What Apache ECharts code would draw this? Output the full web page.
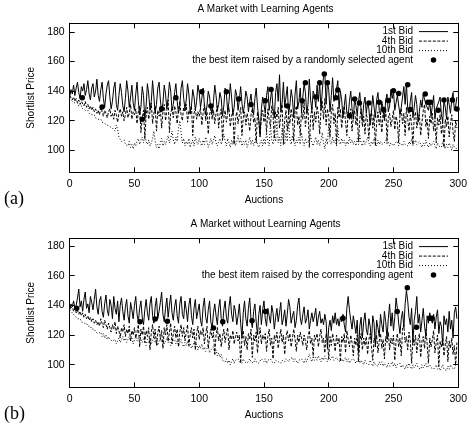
<!DOCTYPE html>
<html><head><meta charset="utf-8">
<script src="https://cdn.jsdelivr.net/npm/echarts@6/dist/echarts.min.js"></script>
<style>html,body{margin:0;padding:0;background:#fff}#c{width:470px;height:430px}</style>
</head><body><div id="c"></div>
<script>
// ---- Data ----
const titles = ['A Market with Learning Agents', 'A Market without Learning Agents'];
const panelTags = ['(a)', '(b)'];
const seriesNames = ['1st Bid', '4th Bid', '10th Bid'];
const dotNames = ['the best item raised by a randomly selected agent', 'the best item raised by the corresponding agent'];
const xTicks = [0, 50, 100, 150, 200, 250, 300];
const yTicks = [100, 120, 140, 160, 180];

// Panel (a): with learning agents
const a1 = [
136,141,138,144,137,142,146,139,135,143, 140,145,137,141,147,138,134,142,145,136,
140,148,137,133,141,146,135,129,138,144, 147,136,128,133,142,146,131,127,137,145,
139,130,126,135,147,140,129,136,144,132, 127,138,146,133,124,129,143,137,121,130,
145,138,127,133,147,136,125,131,142,146, 134,126,132,144,138,128,135,146,140,127,
131,139,145,133,125,130,142,147,135,128, 134,145,138,126,130,141,136,127,133,144,
139,129,135,142,131,124,130,140,136,128, 125,133,144,137,127,131,139,135,123,130,
142,138,126,133,145,136,124,129,141,137, 127,134,143,132,125,131,140,136,126,133,
138,129,124,135,142,130,121,110,128,136, 131,125,137,143,127,134,141,128,122,139,
145,133,151,126,132,146,129,136,143,124, 130,141,135,122,138,147,128,133,142,126,
136,145,139,125,131,148,134,127,140,137, 129,144,133,146,127,140,150,152,131,146,
141,126,137,149,133,136,141,147,128,140, 134,122,130,138,125,123,133,140,128,121,
135,130,124,133,139,127,120,131,136,125, 132,128,117,126,137,129,122,134,139,127,
124,133,128,121,134,138,126,130,141,135, 140,127,132,137,138,124,129,136,143,131,
145,128,125,133,139,122,129,137,131,119, 126,134,129,138,138,131,132,127,133,123,
130,137,121,128,127,133,136,124,119,134, 129,121,136,131,125,134,139,127,130,136];
const a4 = [
137,136,134,136,133,135,132,134,131,133, 132,130,133,129,131,128,130,127,129,126,
128,125,127,124,129,126,123,127,125,122, 126,128,123,125,121,127,124,119,125,128,
123,126,120,124,129,122,125,131,121,126, 124,128,118,126,130,112,122,127,108,124,
129,121,126,132,118,125,130,113,127,123, 128,115,126,131,120,127,134,112,125,129,
122,130,126,118,128,133,124,120,129,126, 131,119,127,124,130,110,125,128,121,126,
123,129,117,125,131,120,126,111,124,128, 121,127,118,125,130,115,124,128,107,122,
127,119,125,129,116,123,127,104,121,126, 118,124,129,110,122,126,117,125,120,113,
124,128,119,122,105,126,120,109,123,127, 119,125,112,128,121,116,130,124,108,126,
122,129,115,124,131,104,120,127,113,125, 118,128,122,106,126,130,117,123,110,127,
121,132,116,124,128,102,122,129,114,126, 119,130,124,111,127,133,121,135,117,128,
123,109,126,131,118,125,104,129,122,128, 115,124,130,119,110,126,121,128,113,123,
127,117,124,106,121,128,116,123,111,125, 120,108,122,127,115,124,103,119,126,117,
123,112,126,120,128,106,122,125,116,121, 127,114,123,119,105,124,128,118,125,110,
129,121,113,124,118,104,122,126,115,120, 124,110,119,127,131,116,121,108,123,118,
125,113,120,105,122,117,124,111,119,102, 121,116,123,109,118,124,112,106,120,115];
const a10 = [
135,134,133,134,132,131,132,130,129,130, 128,129,127,126,127,125,126,124,123,124,
122,123,121,120,121,119,120,118,119,117, 118,116,117,115,116,113,117,114,109,108,
106,105,107,104,105,103,106,102,104,101, 105,103,106,108,104,107,109,105,110,106,
104,107,103,105,108,113,106,102,104,101, 105,108,103,106,104,107,110,105,108,113,
107,104,109,106,115,120,112,105,108,103, 106,104,108,102,105,107,103,109,106,104,
108,105,103,107,104,109,106,102,105,108, 104,107,110,105,103,106,108,104,107,111,
106,103,108,105,102,107,104,109,103,106, 110,105,108,103,106,104,107,102,105,109,
104,107,103,106,108,104,102,105,107,103, 108,104,112,106,103,118,107,104,110,106,
121,105,109,103,115,107,104,112,106,119, 108,104,110,106,103,107,105,109,104,112,
106,103,108,105,104,107,110,105,103,106, 109,104,107,103,106,112,105,101,108,104,
118,106,104,109,105,107,103,115,106,104, 108,105,107,103,106,104,109,105,107,104,
106,103,108,104,110,105,103,107,104,106, 109,105,103,106,104,108,105,103,107,104,
106,104,103,105,107,104,106,103,105,104, 103,105,104,106,103,105,104,103,106,104,
105,103,106,104,108,103,105,107,104,103, 106,104,102,105,103,107,104,102,105,103,
104,106,103,101,105,103,104,102,106,103, 101,104,102,105,103,100,104,102,103,101];
const aDotX = [9.7,25,56,71,82,102,109,121,130.5,140,151,155.5,168,179.5,182,190,193,196.6,199,205.5,207,216,220,223.7,231,239,242.3,246,250,254,261,263,274.5,276.5,278.5,284.5,289,295.5,299];
const aDotY = [135.5,129.2,120.9,128,135.5,139.6,130,139.6,134.6,131,133.5,141,130,133.5,145.6,136,145.6,151.5,145.6,135.5,140.7,123.4,134.6,132,132,132.4,127.6,133.7,140.2,138.4,144.3,127.6,138,132.4,132.4,127,134,134,127.9];

// Panel (b): without learning agents
const b1 = [
137,141,139,143,138,140,145,151,139,143, 136,144,149,138,141,135,146,142,137,144,
151,139,134,143,146,136,132,141,147,137, 133,144,140,131,146,138,134,143,129,140,
145,136,130,139,144,133,128,142,137,131, 140,146,134,129,138,143,132,127,137,144,
135,130,141,146,133,128,139,145,131,136, 142,149,134,129,138,145,132,140,147,135,
130,139,144,133,128,141,146,134,131,143, 137,129,140,145,133,127,138,144,131,136,
141,130,126,139,145,132,128,137,143,129, 124,135,141,133,127,138,144,131,126,137,
143,132,128,139,146,134,129,140,136,127, 133,141,128,118,135,143,131,126,138,145,
130,125,136,141,129,120,134,140,127,137, 143,131,126,138,133,128,140,135,124,132,
138,129,135,142,127,131,137,126,134,144, 139,128,133,136,125,130,140,145,132,127,
134,139,128,131,137,124,130,135,129,133, 138,126,132,136,128,131,127,134,129,111,
125,130,123,133,128,135,127,131,126,132, 129,134,127,122,138,146,137,130,124,133,
127,121,130,108,126,132,118,129,135,124, 120,131,126,115,133,128,112,130,125,119,
134,127,122,136,129,118,131,141,126,135, 123,132,145,138,128,121,131,136,125,141,
150,143,132,127,138,115,130,136,146,128, 134,122,130,138,126,119,133,128,135,131,
128,134,124,132,137,121,129,126,113,133, 127,131,122,136,124,130,118,135,139,131];
const b4 = [
138,137,139,136,138,135,137,134,136,133, 135,132,134,131,133,130,132,129,131,128,
130,127,129,126,131,128,125,130,127,124, 128,125,122,127,124,129,121,126,123,118,
125,122,127,119,124,121,126,116,123,120, 125,118,122,127,112,124,120,126,115,123,
119,125,110,122,127,118,124,113,121,126, 117,123,111,125,120,127,116,122,128,114,
121,126,118,124,112,122,127,119,125,116, 122,127,113,120,125,118,124,110,121,126,
117,123,120,125,114,121,126,111,119,124, 118,122,107,120,125,116,121,112,119,124,
115,121,125,110,120,117,123,114,119,122, 116,120,101,118,123,113,119,110,121,117,
124,105,120,116,122,108,119,125,114,120, 117,121,109,119,124,113,118,104,120,116,
122,111,118,124,115,120,107,119,123,116, 121,112,118,124,117,109,120,115,122,118,
113,120,116,110,119,123,114,118,106,120, 117,121,112,119,124,115,118,108,121,116,
104,119,113,121,116,109,120,114,118,102, 119,115,121,108,123,117,112,120,115,106,
118,113,120,102,116,121,110,118,113,119, 107,117,121,112,103,118,115,120,108,116,
121,111,117,104,119,115,122,110,118,114, 120,103,116,121,112,118,106,124,127,115,
119,110,122,116,101,118,113,120,108,117, 121,105,116,119,111,124,114,101,118,112,
117,123,108,115,120,99,116,112,118,106, 114,119,102,116,111,118,107,113,100,115];
const b10 = [
137,136,135,134,133,132,131,130,131,129, 130,128,127,128,126,125,126,124,123,124,
122,123,121,120,122,119,121,118,120,117, 119,117,118,116,115,117,114,116,118,115,
117,119,116,118,115,117,119,116,118,114, 117,119,116,118,120,117,115,118,116,113,
117,115,118,114,116,119,115,117,113,116, 118,115,117,114,116,118,115,117,113,116,
115,117,114,116,113,115,117,114,112,115, 113,116,112,114,111,113,115,112,114,110,
113,111,114,110,112,109,111,113,108,110, 109,112,107,110,106,108,105,107,103,104,
102,104,101,103,100,102,104,101,103,102, 104,102,103,101,104,102,103,101,102,104,
102,103,101,104,102,103,101,102,104,103, 102,104,101,103,102,104,102,103,101,103,
104,102,103,101,103,104,102,104,103,102, 104,103,105,102,104,103,101,103,102,104,
103,101,104,102,105,107,104,102,106,103, 105,103,106,104,102,105,103,106,104,102,
105,103,104,106,103,102,105,103,104,102, 104,102,103,105,102,104,101,103,102,104,
103,101,102,104,101,103,102,100,103,101, 102,100,103,101,99,102,100,101,99,102,
100,102,99,101,100,98,101,99,100,102, 99,101,98,100,99,101,98,100,99,97,
100,98,101,99,97,100,98,99,101,98, 99,97,100,98,99,101,98,97,100,98,
99,97,98,100,97,99,96,98,100,97, 98,96,99,97,100,98,99,97,100,99];
const bDotX = [5.4,54.3,66,75.4,111,118.2,140.8,151.2,211,252.9,260.7,267.8,278,279.8];
const bDotY = [138.1,129,130.9,129.3,124.8,128.9,129.7,135.8,131.3,135.8,151.8,125.3,131.4,131.4];

// ---- Chart ----
const FONT = 'Liberation Sans';
const GRID_TOP = [23.3, 238.3];
const GRID_H = 149;
const YMIN = [85.2, 84.8], YMAX = [185.7, 185.2];
const DASHES = ['solid', [3, 1.6], [1, 2]];
const chart = echarts.init(document.getElementById('c'), null, {renderer: 'canvas'});

const grids = [], xAxes = [], yAxes = [], series = [], titleOpts = [], graphics = [];
const tickStyle = {lineStyle: {color: '#000', width: 1}};
[0, 1].forEach(p => {
  grids.push({left: 69.7, width: 391.6, top: GRID_TOP[p], height: GRID_H, show: false});
  xAxes.push({type: 'value', gridIndex: p, position: 'bottom', min: 0, max: 300, interval: 50,
    name: 'Auctions', nameLocation: 'middle', nameGap: 23,
    nameTextStyle: {fontFamily: FONT, fontSize: 10, color: '#000'},
    axisLine: {show: true, onZero: false, lineStyle: {color: '#000', width: 1}},
    axisTick: {show: true, inside: true, length: 5, ...tickStyle},
    axisLabel: {show: true, margin: 6, fontFamily: FONT, fontSize: 10.5, color: '#000', customValues: xTicks},
    splitLine: {show: false}});
  xAxes.push({type: 'value', gridIndex: p, position: 'top', min: 0, max: 300, interval: 50,
    axisLine: {show: true, onZero: false, lineStyle: {color: '#000', width: 1}},
    axisTick: {show: true, inside: true, length: 5, ...tickStyle},
    axisLabel: {show: false}, splitLine: {show: false}});
  yAxes.push({type: 'value', gridIndex: p, position: 'left', min: YMIN[p], max: YMAX[p],
    name: 'Shortlist Price', nameLocation: 'middle', nameGap: 23, nameRotate: 90,
    nameTextStyle: {fontFamily: FONT, fontSize: 10, color: '#000'},
    axisLine: {show: true, onZero: false, lineStyle: {color: '#000', width: 1}},
    axisTick: {show: true, inside: true, length: 5, customValues: yTicks, ...tickStyle},
    axisLabel: {show: true, margin: 5, fontFamily: FONT, fontSize: 10.5, color: '#000', customValues: yTicks},
    splitLine: {show: false}});
  yAxes.push({type: 'value', gridIndex: p, position: 'right', min: YMIN[p], max: YMAX[p],
    axisLine: {show: true, onZero: false, lineStyle: {color: '#000', width: 1}},
    axisTick: {show: true, inside: true, length: 5, customValues: yTicks, ...tickStyle},
    axisLabel: {show: false}, splitLine: {show: false}});
  titleOpts.push({text: titles[p], left: 265.5, top: GRID_TOP[p] - 19, padding: 0, textAlign: 'center',
    textStyle: {fontFamily: FONT, fontSize: 10, fontWeight: 'normal', color: '#000'}});
  graphics.push({type: 'text', left: 4, top: GRID_TOP[p] + 167,
    style: {text: panelTags[p], fontFamily: 'Liberation Serif', fontSize: 18, fill: '#000'}});
});

const panelData = [[a1, a4, a10], [b1, b4, b10]];
const dots = [[aDotX, aDotY], [bDotX, bDotY]];
[0, 1].forEach(p => {
  panelData[p].forEach((arr, k) => {
    series.push({type: 'line', name: seriesNames[k], xAxisIndex: p * 2, yAxisIndex: p * 2,
      data: arr.map((v, i) => [i, v]), showSymbol: false, symbol: 'none', animation: false,
      lineStyle: {color: '#000', width: 1, type: DASHES[k]}, itemStyle: {color: '#000'}, z: 3 - k});
  });
  series.push({type: 'scatter', name: dotNames[p], xAxisIndex: p * 2, yAxisIndex: p * 2,
    data: dots[p][0].map((x, i) => [x, dots[p][1][i]]), symbol: 'circle', symbolSize: 5.5,
    itemStyle: {color: '#000', opacity: 1}, animation: false, z: 5});
  // key drawn in gnuplot style: right-aligned text, sample to its right
  const names = [...seriesNames, dotNames[p]];
  names.forEach((n, k) => {
    const yc = GRID_TOP[p] + 8.3 + k * 9.5;
    graphics.push({type: 'text', x: 413, y: yc, style: {text: n, align: 'right', verticalAlign: 'middle',
      fontFamily: FONT, fontSize: 10, fill: '#000'}});
    if (k < 3) {
      graphics.push({type: 'line', shape: {x1: 419, y1: yc, x2: 448, y2: yc},
        style: {stroke: '#000', lineWidth: 1, lineDash: k === 0 ? null : DASHES[k]}});
    } else {
      graphics.push({type: 'circle', shape: {cx: 433.5, cy: yc, r: 2.75}, style: {fill: '#000'}});
    }
  });
});

chart.setOption({
  backgroundColor: '#fff',
  animation: false,
  title: titleOpts,
  grid: grids, xAxis: xAxes, yAxis: yAxes, series: series,
  graphic: graphics
});
</script></body></html>
